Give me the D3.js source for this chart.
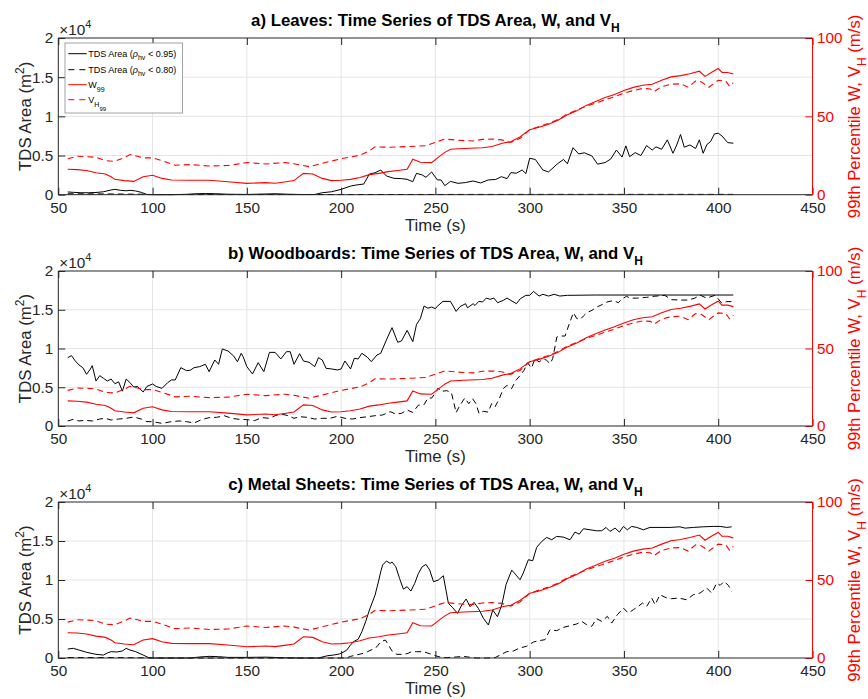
<!DOCTYPE html>
<html>
<head>
<meta charset="utf-8">
<script src="https://cdn.jsdelivr.net/npm/d3@7"></script>
<style>
  body { margin: 0; background: #fff; }
  svg text { font-family: "Liberation Sans", Arial, Helvetica, sans-serif; }
</style>
</head>
<body>
<svg id="chart" width="868" height="699"></svg>
<script>
// ---- data (time in s, TDS area in m^2, speeds in m/s) ----
const xTicks = [50, 100, 150, 200, 250, 300, 350, 400, 450];
const leftTicks = [0, 5000, 10000, 15000, 20000];
const leftTickLabels = ["0", "0.5", "1", "1.5", "2"];
const rightTicks = [0, 50, 100];

const panelTitles = ["a) Leaves: Time Series of TDS Area, W, and V",
                     "b) Woodboards: Time Series of TDS Area, W, and V",
                     "c) Metal Sheets: Time Series of TDS Area, W, and V"];

// 99th percentile W (same in every panel)
const w99 = [[55,16.2],[60,16],[65,15.4],[70,14],[75,13.2],[78,11.5],[80,9.8],[85,9],[90,8.5],[95,11.5],
  [100,12.4],[105,10.4],[110,9.4],[120,9.2],[130,9.2],[140,8.3],[150,7.2],[160,7.7],[165,7.3],[170,8.1],
  [175,9],[180,13.6],[185,13.2],[190,10.4],[195,9],[200,9.2],[205,9.8],[210,11],[215,12.8],[220,13.6],
  [225,14.7],[230,15.4],[235,16.2],[238,22.6],[242,20.7],[248,20.5],[252,24.3],[255,27],[258,29],[265,29.5],
  [275,30],[280,30.8],[286,33],[290,33.8],[295,37],[300,41.5],[305,43],[310,45],[315,47.5],[320,51],
  [325,53.5],[330,57],[335,59.5],[340,62],[345,64],[350,66.5],[355,68.5],[360,69.8],[365,70.5],[370,73],
  [375,75.2],[380,76],[385,77.2],[390,78.8],[393,75.5],[397,78.5],[400,80.5],[402,78],[405,78],[408,77]];

// 99th percentile V_H (same in every panel)
const vh99 = [[55,23],[60,24.5],[65,24.3],[70,23.9],[75,21.7],[80,21.3],[85,23.7],[88,25.6],[92,24.5],[95,23.5],
  [100,23.5],[105,21.7],[112,18.8],[120,19.2],[130,18.3],[140,18.6],[145,19.5],[150,20.5],[160,19.6],[170,20.5],
  [175,19.8],[183,17.9],[190,20],[200,23],[210,25.2],[215,28],[218,30.5],[225,30.3],[235,30.7],[245,31.3],
  [250,33.5],[255,35.5],[260,35],[265,34.5],[270,34.3],[275,35.3],[280,35.5],[285,35],[290,33.3],[295,36],
  [300,41.5],[305,43.5],[310,45.5],[315,48],[320,51.5],[325,54],[330,56.5],[335,58.5],[340,60.5],[345,62.5],
  [350,64.8],[355,66.5],[360,67.8],[364,67.5],[366,65.7],[370,69],[375,70.5],[380,70.8],[384,68.6],[388,72.5],
  [391,72],[395,68.6],[400,73],[404,72.5],[406,69.2],[408,71.5]];

// TDS area, rho_hv < 0.95 (solid) and < 0.80 (dashed)
const leavesLoose = [[55,350],[58,300],[62,250],[66,250],[70,280],[74,380],[78,600],[80,680],[83,560],[86,500],
  [88,560],[91,480],[94,300],[97,30],[100,0],[110,0],[118,50],[123,120],[128,150],[133,130],[140,60],[150,30],
  [158,80],[165,120],[172,60],[180,20],[186,30],[190,250],[195,380],[200,680],[205,1100],[208,1240],[212,1360],
  [215,2640],[218,2800],[221,3150],[224,2390],[228,2090],[232,2050],[235,1960],[238,1660],[240,2730],[243,2520],
  [245,2220],[248,2900],[251,1900],[253,1880],[255,1150],[258,1700],[262,1450],[266,1550],[270,1750],[274,1500],
  [278,1880],[282,1950],[285,2300],[288,2050],[290,2810],[293,2750],[296,3150],[298,2700],[300,4650],[303,4500],
  [307,3150],[310,2900],[315,4000],[318,4500],[320,3950],[323,6000],[326,5200],[329,5350],[333,4950],[336,3900],
  [340,4100],[343,4560],[346,5700],[349,4800],[351,6230],[353,4860],[356,5370],[359,5000],[362,6270],[365,5700],
  [367,6100],[370,5800],[373,7000],[376,5290],[378,6350],[380,7680],[382,6060],[385,6350],[388,5900],[390,7000],
  [392,5290],[394,6400],[396,6800],[398,7760],[400,7850],[402,7500],[405,6650],[408,6570]];
const leavesStrict = [[55,120],[75,100],[95,60],[100,20],[200,20],[250,30],[300,40],[408,40]];

const woodLoose = [[55,8820],[57,9080],[59,8390],[61,7870],[63,7530],[65,6670],[67,7350],[68,7790],[70,5800],
  [72,6500],[74,6150],[76,5800],[78,6060],[80,5460],[82,5700],[84,4500],[86,6060],[88,5600],[90,5030],[92,5100],
  [95,4390],[97,5100],[100,5420],[102,5100],[105,4860],[108,5590],[110,5940],[112,5940],[115,7530],[118,7140],
  [120,7200],[122,7530],[125,7660],[128,7960],[130,7010],[133,8520],[135,7960],[137,9940],[140,9680],[143,9030],
  [145,8300],[147,9380],[148,8950],[150,7660],[153,6710],[156,8170],[159,7010],[162,9500],[165,9500],[168,8650],
  [171,9590],[173,9590],[175,7960],[178,9330],[180,8390],[183,8220],[186,7660],[188,8820],[190,8520],[192,7440],
  [195,7360],[198,7230],[200,7360],[202,8390],[205,7360],[207,8730],[209,8650],[211,9380],[214,8860],[216,8300],
  [219,9160],[221,9380],[224,11100],[227,12690],[230,10800],[232,10970],[235,12340],[238,10880],[240,13120],
  [242,13850],[244,15480],[246,15200],[248,15350],[250,15140],[251,15450],[254,16080],[258,16080],[261,14790],
  [263,15400],[266,15780],[267,15250],[270,15780],[271,15550],[273,16080],[275,16000],[277,16510],[279,16340],
  [281,16510],[283,15910],[286,16210],[288,16510],[290,16210],[293,15780],[295,16420],[298,16860],[300,16860],
  [302,17370],[305,16770],[307,16990],[310,16770],[313,16990],[316,16770],[320,16860],[335,16900],[408,16900]];
const woodStrict = [[55,650],[58,860],[61,650],[64,730],[68,650],[72,900],[75,990],[78,770],[82,900],[86,990],
  [90,1160],[94,900],[97,560],[100,560],[105,340],[110,560],[114,650],[118,560],[122,390],[126,820],[130,1080],
  [134,1120],[138,1330],[142,990],[146,860],[150,820],[154,690],[158,1080],[162,990],[165,1330],[168,1550],
  [172,1330],[175,990],[178,1200],[182,1120],[186,900],[190,990],[194,990],[198,1250],[202,990],[206,900],
  [210,1080],[214,1200],[218,1330],[222,1420],[226,1850],[229,1550],[232,1630],[235,2060],[238,1760],[241,2700],
  [244,2750],[246,3610],[248,3610],[250,4260],[251.4,4900],[253,4470],[256,4560],[258.5,4300],[261,1720],
  [263,2670],[265.6,3610],[267.7,2880],[269.7,3530],[271.5,2880],[273.2,1590],[275.4,1890],[278,1800],
  [279.8,2880],[281.6,2450],[283.9,3530],[286,4820],[288,5250],[290.4,4820],[292.7,5890],[295,6540],[297,7180],
  [298.8,8170],[301,7480],[302.8,8690],[305,8260],[307.3,8690],[309,8470],[310.8,8040],[312.2,8690],
  [314.4,11480],[316,11610],[318.8,11610],[321,13200],[323.2,14620],[325,13850],[326.8,13760],[328.5,14190],
  [330.3,14620],[333,14920],[335.6,15350],[338.3,15650],[341,16000],[344.6,16200],[347,15900],[349,16400],
  [351.4,16730],[353.2,16500],[356.7,16500],[362,16600],[366.4,16750],[371.7,16850],[375.3,16300],[379.7,16250],
  [384.1,16250],[387.6,16500],[390.3,16900],[393.8,16500],[398.2,16850],[400,16400],[401.8,15870],[404.4,16050],
  [407.1,16050]];

const metalLoose = [[55,1150],[58,1240],[61,1020],[65,730],[70,470],[74,380],[76,640],[78,810],[81,770],[84,900],
  [86,1240],[88,1020],[91,810],[95,380],[98,40],[100,0],[120,0],[125,130],[130,210],[135,170],[140,80],[150,80],
  [160,110],[170,30],[180,0],[188,0],[190,130],[193,300],[196,380],[199,510],[201,730],[203,1020],[205,1670],
  [207,2180],[209,2390],[211,3370],[213,4650],[215,6150],[217,7430],[218,8070],[220,10000],[221,11060],
  [222,11910],[224,12430],[226,12130],[227,12300],[229,11700],[231,10200],[233,8840],[235,9140],[237,8580],
  [239,9560],[241,10850],[243,11700],[245,12000],[247,11270],[249,9780],[251.6,10000],[254.2,10550],[256.9,7000],
  [259.2,6450],[261.7,5720],[264,6790],[266.3,7560],[268.4,6580],[270.5,7130],[272.8,6360],[275.5,5080],
  [278.1,4230],[280.4,6150],[282.9,5300],[285.2,6790],[287.5,9440],[290.5,11270],[292.8,10630],[294.9,10030],
  [296.6,10890],[299.3,12600],[301.6,12470],[303.7,14180],[306.4,14940],[309,15460],[311.7,15160],[314.3,15590],
  [317.9,15500],[321.4,15160],[324,16140],[326.3,15880],[328.5,16570],[332,16440],[335.5,16310],[338.2,16310],
  [340.5,16740],[342.6,16230],[345.3,16660],[347.6,16140],[349.7,16870],[351.8,16440],[354.1,16870],[356.8,16740],
  [360.3,16440],[363.8,16740],[369.1,16740],[374.4,16740],[379.7,16820],[382.4,16650],[386.8,16740],[392,16820],
  [397.4,16870],[401,16870],[404.5,16740],[407.1,16820]];
const metalStrict = [[55,60],[75,60],[95,30],[100,0],[200,0],[203,30],[205,210],[208,380],[211,550],[214,810],
  [217,1150],[219,1450],[221,2090],[223.5,2300],[225,1700],[227,900],[229.5,470],[232,470],[235,550],[237.4,810],
  [240,810],[243.6,810],[247,550],[249.8,300],[252.5,130],[256,40],[261,130],[265,210],[268,100],[272,0],[277,0],
  [281.6,40],[284.3,380],[287.8,810],[291.4,900],[294.9,1300],[298.4,1500],[302,2050],[304.6,2200],[308.1,2350],
  [310.8,3630],[314.3,3500],[317.9,3930],[321.4,4140],[324.9,4360],[327.6,4700],[330.2,4270],[332.9,4060],
  [335.5,5040],[338.2,4700],[341.2,5340],[343.5,4480],[346.5,5550],[349.7,6400],[352.3,5760],[355,6190],
  [357.6,6620],[359.9,7050],[362.1,6620],[364.7,7690],[366.5,6830],[369.1,8110],[372.7,7690],[375.3,7600],
  [378.9,7690],[383.3,7470],[386.8,8110],[390.4,8330],[393.9,8970],[396.5,8330],[399.2,9610],[401,9310],
  [403.1,9820],[405.4,9310],[407.1,8540]];

// ---- layout ----
const plotLeft = 58.3, plotRight = 812.5;
const panelTops = [38, 271, 502];
const panelBottoms = [194.7, 426, 658];
const looseSeries = [leavesLoose, woodLoose, metalLoose];
const strictSeries = [leavesStrict, woodStrict, metalStrict];

const axisColor = "#262626";
const gridColor = "#e4e4e4";
const red = "#ff0000";
const dash = "6,4";

const svg = d3.select("#chart");

const x = d3.scaleLinear().domain([50, 450]).range([plotLeft, plotRight]);

function drawPanel(i) {
  const top = panelTops[i], bottom = panelBottoms[i];
  const yL = d3.scaleLinear().domain([0, 20000]).range([bottom, top]);
  const yR = d3.scaleLinear().domain([0, 100]).range([bottom, top]);
  const g = svg.append("g");

  // grid
  g.append("g").selectAll("line").data(xTicks.slice(1, -1)).enter().append("line")
    .attr("x1", d => x(d)).attr("x2", d => x(d)).attr("y1", top).attr("y2", bottom)
    .attr("stroke", gridColor).attr("stroke-width", 1);
  g.append("g").selectAll("line").data(leftTicks.slice(1, -1)).enter().append("line")
    .attr("x1", plotLeft).attr("x2", plotRight).attr("y1", d => yL(d)).attr("y2", d => yL(d))
    .attr("stroke", gridColor).attr("stroke-width", 1);

  // series
  const lineL = d3.line().x(d => x(d[0])).y(d => yL(d[1]));
  const lineR = d3.line().x(d => x(d[0])).y(d => yR(d[1]));
  g.append("path").datum(looseSeries[i]).attr("d", lineL)
    .attr("fill", "none").attr("stroke", "#000").attr("stroke-width", 1);
  g.append("path").datum(strictSeries[i]).attr("d", lineL)
    .attr("fill", "none").attr("stroke", "#000").attr("stroke-width", 1).attr("stroke-dasharray", dash);
  g.append("path").datum(w99).attr("d", lineR)
    .attr("fill", "none").attr("stroke", red).attr("stroke-width", 1.1);
  g.append("path").datum(vh99).attr("d", lineR)
    .attr("fill", "none").attr("stroke", red).attr("stroke-width", 1.1).attr("stroke-dasharray", dash);

  // axes (ticks point inward)
  const xAxis = d3.axisBottom(x).tickValues(xTicks).tickSize(-7).tickSizeOuter(0).tickPadding(7);
  const xAxisTop = d3.axisTop(x).tickValues(xTicks).tickSize(-7).tickSizeOuter(0).tickFormat("");
  const yAxisL = d3.axisLeft(yL).tickValues(leftTicks).tickSize(-7).tickSizeOuter(0).tickPadding(5)
    .tickFormat((d, k) => leftTickLabels[k]);
  const yAxisR = d3.axisRight(yR).tickValues(rightTicks).tickSize(-7).tickSizeOuter(0).tickPadding(4.5);

  const styleAxis = (sel, color) => {
    sel.select(".domain").remove();
    sel.selectAll("line").attr("stroke", color);
    sel.selectAll("text").attr("fill", color).attr("font-size", 15.3)
      .attr("font-family", "'Liberation Sans', Arial, Helvetica, sans-serif");
  };
  g.append("g").attr("transform", `translate(0,${bottom})`).call(xAxis).call(s => styleAxis(s, axisColor));
  g.append("g").attr("transform", `translate(0,${top})`).call(xAxisTop).call(s => styleAxis(s, axisColor));
  g.append("g").attr("transform", `translate(${plotLeft},0)`).call(yAxisL).call(s => styleAxis(s, axisColor));
  g.append("g").attr("transform", `translate(${plotRight},0)`).call(yAxisR).call(s => styleAxis(s, red));

  // box
  g.append("path").attr("d", `M${plotRight},${top}H${plotLeft}V${bottom}H${plotRight}`)
    .attr("fill", "none").attr("stroke", axisColor).attr("stroke-width", 1);
  g.append("line").attr("x1", plotRight).attr("x2", plotRight).attr("y1", top).attr("y2", bottom)
    .attr("stroke", red).attr("stroke-width", 1);

  // exponent
  const ex = g.append("text").attr("x", plotLeft + 1).attr("y", top - 3)
    .attr("font-size", 15.3).attr("fill", axisColor);
  ex.append("tspan").text("\u00d710");
  ex.append("tspan").attr("dy", -7).attr("font-size", 11).text("4");

  // title
  const t = g.append("text").attr("x", (plotLeft + plotRight) / 2).attr("y", top - 12)
    .attr("text-anchor", "middle").attr("font-size", 16.8).attr("font-weight", "bold").attr("fill", "#000");
  t.append("tspan").text(panelTitles[i]);
  t.append("tspan").attr("dy", 6).attr("font-size", 12).text("H");

  // x label
  g.append("text").attr("x", (plotLeft + plotRight) / 2).attr("y", bottom + 36)
    .attr("text-anchor", "middle").attr("font-size", 16.8).attr("fill", axisColor).text("Time (s)");

  // left label
  const midY = (top + bottom) / 2;
  const ll = g.append("text").attr("transform", `translate(31,${midY}) rotate(-90)`)
    .attr("text-anchor", "middle").attr("font-size", 16.8).attr("fill", axisColor);
  ll.append("tspan").text("TDS Area (m");
  ll.append("tspan").attr("dy", -7).attr("font-size", 12).text("2");
  ll.append("tspan").attr("dy", 7).text(")");

  // right label
  const rl = g.append("text").attr("transform", `translate(860,${midY}) rotate(-90)`)
    .attr("text-anchor", "middle").attr("font-size", 16.8).attr("fill", red);
  rl.append("tspan").text("99th Percentile W, V");
  rl.append("tspan").attr("dy", 6).attr("font-size", 12).text("H");
  rl.append("tspan").attr("dy", -6).text(" (m/s)");

  return g;
}

const panelGroups = [0, 1, 2].map(drawPanel);

// legend in panel a
const leg = panelGroups[0].append("g");
leg.append("rect").attr("x", 65).attr("y", 43).attr("width", 117.5).attr("height", 70)
  .attr("fill", "#fff").attr("stroke", "#8c8c8c").attr("stroke-width", 0.8);
const legendRows = [
  { y: 53.7, color: "#000", dashed: false },
  { y: 69.7, color: "#000", dashed: true },
  { y: 84.7, color: red, dashed: false },
  { y: 99.7, color: red, dashed: true }
];
legendRows.forEach(r => {
  leg.append("line").attr("x1", 68.3).attr("x2", 86.7).attr("y1", r.y).attr("y2", r.y)
    .attr("stroke", r.color).attr("stroke-width", 1).attr("stroke-dasharray", r.dashed ? "6,5" : null);
});
function rhoEntry(yb, val) {
  const tx = leg.append("text").attr("x", 88.3).attr("y", yb).attr("font-size", 9).attr("fill", "#000");
  tx.append("tspan").text("TDS Area (");
  tx.append("tspan").attr("font-style", "italic").text("\u03c1");
  tx.append("tspan").attr("dy", 3).attr("font-size", 7).text("hv");
  tx.append("tspan").attr("dy", -3).text(" < " + val + ")");
}
rhoEntry(57, "0.95");
rhoEntry(73, "0.80");
const wt = leg.append("text").attr("x", 88.3).attr("y", 87.5).attr("font-size", 9).attr("fill", "#000");
wt.append("tspan").text("W");
wt.append("tspan").attr("dy", 4).attr("font-size", 7).text("99");
const vt = leg.append("text").attr("x", 88.3).attr("y", 102.5).attr("font-size", 9).attr("fill", "#000");
vt.append("tspan").text("V");
vt.append("tspan").attr("dy", 4).attr("font-size", 7).text("H");
vt.append("tspan").attr("dy", 4).attr("font-size", 6).text("99");
</script>
</body>
</html>
